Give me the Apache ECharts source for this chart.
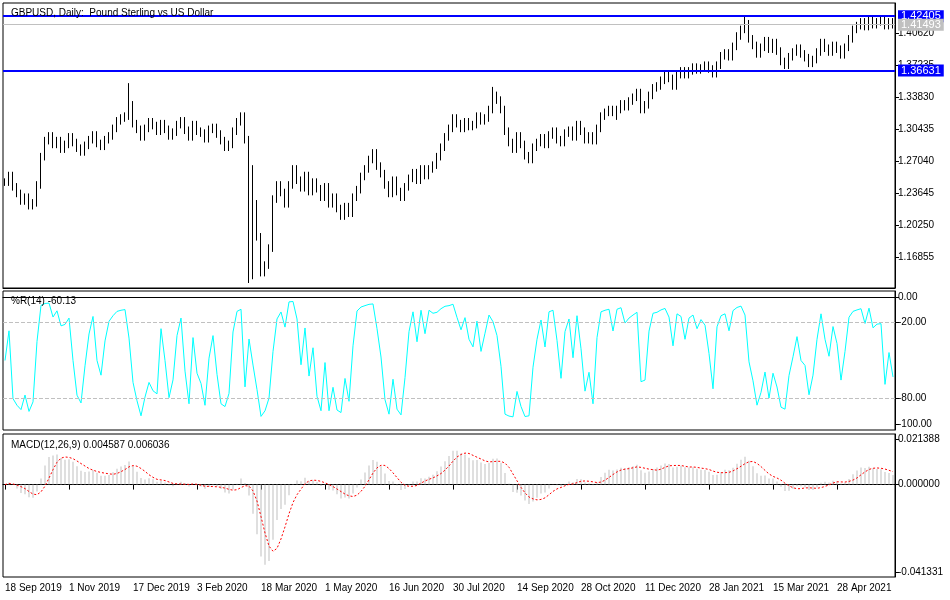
<!DOCTYPE html>
<html lang="en">
<head>
    <meta charset="UTF-8">
    <title>GBPUSD Daily</title>
    <style>
        * { margin: 0; padding: 0; }
        html, body { width: 100%; height: 100%; background: #fff; }
        #chart { width: 950px; height: 600px; }
    </style>
    <script src="https://cdn.jsdelivr.net/npm/echarts@6/dist/echarts.min.js"></script>
</head>
<body>
<div id="chart"></div>
<script>
    // closes, one bar per two trading days
    const closes = [
        1.248, 1.255, 1.243,
        1.236, 1.228, 1.232, 1.223, 1.226,
        1.245, 1.275, 1.292,
        1.297, 1.288, 1.292, 1.283, 1.288, 1.296, 1.290, 1.284, 1.280, 1.287, 1.293, 1.298, 1.289, 1.286, 1.293, 1.297,
        1.305, 1.313, 1.316, 1.318,
        1.330,
        1.310, 1.304, 1.296,
        1.305, 1.312, 1.308, 1.302, 1.310, 1.304, 1.297, 1.301, 1.309, 1.313, 1.303, 1.296, 1.309, 1.302,
        1.300, 1.294, 1.304, 1.306, 1.299, 1.292, 1.285, 1.288, 1.302,
        1.312, 1.318, 1.293,
        1.262, 1.225, 1.190, 1.152, 1.160, 1.178,
        1.230, 1.245, 1.237, 1.225, 1.245, 1.262,
        1.250, 1.242, 1.255, 1.238, 1.248, 1.241, 1.232,
        1.243, 1.225, 1.232, 1.220, 1.212, 1.222, 1.215, 1.232, 1.240,
        1.254, 1.262, 1.272, 1.279, 1.265, 1.257,
        1.245, 1.236, 1.250, 1.238, 1.232, 1.243,
        1.252, 1.258, 1.250, 1.262, 1.255, 1.262, 1.266,
        1.275, 1.285, 1.296, 1.305,
        1.316, 1.310, 1.305, 1.312, 1.307, 1.309, 1.318, 1.313, 1.316, 1.325,
        1.340, 1.335, 1.325,
        1.302, 1.290, 1.283, 1.297, 1.288,
        1.276, 1.272, 1.285,
        1.290, 1.295, 1.288, 1.298, 1.302, 1.293, 1.290, 1.300, 1.303, 1.296, 1.309, 1.302, 1.293, 1.297,
        1.292, 1.305, 1.318, 1.322, 1.325, 1.318, 1.325, 1.331, 1.328, 1.334,
        1.338, 1.343, 1.325, 1.330, 1.340, 1.348, 1.350,
        1.356, 1.361, 1.358, 1.350, 1.362, 1.366, 1.362, 1.366, 1.370, 1.367, 1.369, 1.372, 1.368, 1.363,
        1.372, 1.382, 1.385, 1.381, 1.392, 1.403, 1.410,
        1.416,
        1.400, 1.393, 1.384, 1.391, 1.398, 1.389, 1.396, 1.387,
        1.376, 1.372,
        1.381, 1.386, 1.390, 1.384, 1.380,
        1.374, 1.378,
        1.386, 1.396, 1.390, 1.386, 1.393, 1.389, 1.383, 1.391,
        1.400, 1.410, 1.414,
        1.418, 1.413, 1.420, 1.415, 1.418, 1.421, 1.414, 1.418, 1.41493
    ]
    // spikes that stick out of the ordinary bar range
    const spikeHighs = {31: 1.353, 122: 1.349, 185: 1.4240}
    const spikeLows = {61: 1.141, 62: 1.145, 152: 1.318}
    const dateLabels = ['18 Sep 2019', '1 Nov 2019', '17 Dec 2019', '3 Feb 2020', '18 Mar 2020', '1 May 2020',
        '16 Jun 2020', '30 Jul 2020', '14 Sep 2020', '28 Oct 2020', '11 Dec 2020', '28 Jan 2021',
        '15 Mar 2021', '28 Apr 2021']
    const priceTicks = [1.16855, 1.20250, 1.23645, 1.27040, 1.30435, 1.33830, 1.37235, 1.40620]
    const levels = [1.42405, 1.36631]
    const lastPrice = 1.41493
    const labelStep = 16

    const cats = closes.map((c, i) => i)
    const pad = 0.004
    const ohlc = closes.map((c, i) => {
        let o = i ? closes[i - 1] : c
        let hi = Math.max(o, c) + pad
        let lo = Math.min(o, c) - pad
        if (spikeHighs[i]) hi = spikeHighs[i]
        if (spikeLows[i]) lo = spikeLows[i]
        return [o, c, lo, hi]
    })

    // %R over 7 bars (= 14 days)
    const wpr = ohlc.map((b, i) => {
        let s = Math.max(0, i - 6)
        let hh = -Infinity, ll = Infinity
        for (let k = s; k <= i; k++) { hh = Math.max(hh, ohlc[k][3]); ll = Math.min(ll, ohlc[k][2]) }
        return -100 * (hh - b[1]) / (hh - ll)
    })

    // MACD 12/26/9 days -> 6/13/4.5 bars
    function ema(arr, p) {
        let k = 2 / (p + 1), out = [], prev = arr[0]
        arr.forEach((v, i) => { prev = i ? v * k + prev * (1 - k) : v; out.push(prev) })
        return out
    }
    const e1 = ema(closes, 6), e2 = ema(closes, 13)
    const macd = closes.map((c, i) => e1[i] - e2[i])
    const signal = macd.map((v, i) => {
        let s = Math.max(0, i - 4), sum = 0
        for (let k = s; k <= i; k++) sum += macd[k]
        return sum / (i - s + 1)
    })

    const font = 'Liberation Sans'
    const axisLine = {show: true, lineStyle: {color: '#000', width: 1}}
    const frame = {show: true, borderColor: '#000', borderWidth: 1}
    const grids = [
        {left: 3, right: 55, top: 3, height: 285, ...frame},
        {left: 3, right: 55, top: 291, height: 139, ...frame},
        {left: 3, right: 55, top: 434, height: 143, ...frame}
    ]

    function xAxis(idx, showLabel) {
        return {
            type: 'category', gridIndex: idx, data: cats, boundaryGap: true,
            axisLine: axisLine,
            axisTick: {show: showLabel, interval: labelStep - 1, alignWithLabel: true, length: 5, lineStyle: {color: '#000'}},
            axisLabel: {
                show: showLabel, interval: labelStep - 1, align: 'left', color: '#000', fontFamily: font, fontSize: 10, margin: 6,
                formatter: (v, i) => dateLabels[Math.round(i / labelStep)] || ''
            },
            splitLine: {show: false}
        }
    }
    function yAxis(idx, min, max, ticks, fmt) {
        return {
            type: 'value', gridIndex: idx, position: 'right', min: min, max: max, scale: true,
            axisLine: axisLine,
            axisTick: {show: true, length: 4, customValues: ticks, lineStyle: {color: '#000'}},
            axisLabel: {color: '#000', fontFamily: font, fontSize: 10, margin: 3, customValues: ticks, formatter: fmt},
            splitLine: {show: false}
        }
    }

    const chart = echarts.init(document.getElementById('chart'))
    chart.setOption({
        animation: false,
        backgroundColor: '#fff',
        grid: grids,
        title: [
            {text: 'GBPUSD, Daily:  Pound Sterling vs US Dollar', left: 6, top: 3, textStyle: {fontFamily: font, fontSize: 10, fontWeight: 'normal', color: '#000'}},
            {text: '%R(14) -60.13', left: 6, top: 291, textStyle: {fontFamily: font, fontSize: 10, fontWeight: 'normal', color: '#000'}},
            {text: 'MACD(12,26,9) 0.004587 0.006036', left: 6, top: 435, textStyle: {fontFamily: font, fontSize: 10, fontWeight: 'normal', color: '#000'}}
        ],
        xAxis: [xAxis(0, false), xAxis(1, false), xAxis(2, true)],
        yAxis: [
            yAxis(0, 1.1357, 1.4380, priceTicks, v => v.toFixed(5)),
            yAxis(1, -104.6, 4.6, [0, -20, -80, -100], v => v.toFixed(2)),
            yAxis(2, -0.0435, 0.0238, [0.021388, 0, -0.041331], v => v.toFixed(6))
        ],
        series: [
            {
                type: 'candlestick', xAxisIndex: 0, yAxisIndex: 0, data: ohlc, barWidth: 1,
                itemStyle: {color: '#000', color0: '#000', borderColor: '#000', borderColor0: '#000', borderWidth: 1},
                markLine: {
                    symbol: 'none', silent: true, precision: 5,
                    data: [
                        ...levels.map(v => ({yAxis: v, name: v.toFixed(5), lineStyle: {color: '#0000ff', width: 2, type: 'solid'},
                            label: {backgroundColor: '#0000ff', color: '#fff'}})),
                        {yAxis: lastPrice, name: lastPrice.toFixed(5), lineStyle: {color: '#c0c0c0', width: 1, type: 'solid'},
                            label: {backgroundColor: '#c0c0c0', color: '#fff'}}
                    ],
                    label: {position: 'end', distance: 3, fontFamily: font, fontSize: 11, padding: [1, 3, 0, 3],
                        formatter: '{b}'}
                }
            },
            {
                type: 'line', xAxisIndex: 1, yAxisIndex: 1, data: wpr, symbol: 'none',
                lineStyle: {color: '#00ffff', width: 1},
                markLine: {
                    symbol: 'none', silent: true, label: {show: false},
                    lineStyle: {color: '#c0c0c0', type: 'dashed', width: 1},
                    data: [{yAxis: -20}, {yAxis: -80}]
                }
            },
            {
                type: 'bar', xAxisIndex: 2, yAxisIndex: 2, data: macd, barWidth: 1,
                itemStyle: {color: '#c0c0c0'}
            },
            {
                type: 'line', xAxisIndex: 2, yAxisIndex: 2, data: signal, symbol: 'none',
                lineStyle: {color: '#ff0000', width: 1, type: [2, 2]}
            }
        ]
    })
</script>
</body>
</html>
